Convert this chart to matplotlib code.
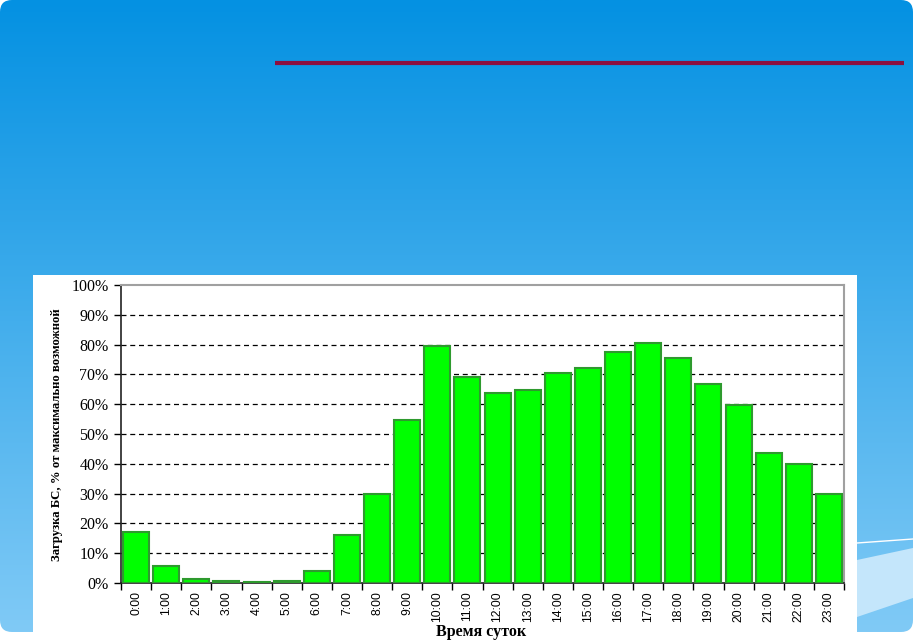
import numpy as np
import matplotlib.pyplot as plt
from matplotlib.patches import FancyBboxPatch, Rectangle, Polygon

hours = ["%d:00" % h for h in range(24)]
load = [17.0, 5.7, 1.2, 0.8, 0.4, 0.8, 4.0, 16.0, 29.8, 54.8,
        79.5, 69.0, 63.7, 64.9, 70.6, 72.3, 77.4, 80.4, 75.6, 66.7,
        59.8, 43.5, 39.9, 30.0]
y_ticks = list(range(0, 101, 10))
y_label = "Загрузка БС, % от максимально возможной"
x_label = "Время суток"

W, H = 915, 641
fig = plt.figure(figsize=(W / 100, H / 100), dpi=100)
fig.patch.set_facecolor("white")

# slide background in pixel coords
bg = fig.add_axes([0, 0, 1, 1])
bg.set_xlim(0, W)
bg.set_ylim(H, 0)
bg.axis("off")
grad = np.linspace(0, 1, 256)[:, None]
top = np.array([4, 145, 226]) / 255
bot = np.array([128, 202, 246]) / 255
img = top + (bot - top) * grad[..., None]
im = bg.imshow(img, extent=[0, 913, 632, 0], aspect="auto", zorder=0)
slide = FancyBboxPatch((0, 0), 913, 632, boxstyle="round,pad=0,rounding_size=12",
                       transform=bg.transData, facecolor="none", edgecolor="none")
bg.add_patch(slide)
im.set_clip_path(slide)

# light swooshes bottom right
bg.add_patch(Polygon([[857, 560], [913, 548], [913, 598], [857, 617]],
                     closed=True, facecolor="#c4e6fb", edgecolor="none", zorder=1))
bg.plot([857, 913], [543, 539], color="white", lw=1, zorder=1)

# red rule
bg.plot([275, 904], [63, 63], color="#8c0f3f", lw=3, solid_capstyle="butt", zorder=2)

# white chart box
bg.add_patch(Rectangle((33, 275), 824, 366, facecolor="white", edgecolor="none", zorder=3))

ax = fig.add_axes([121 / W, 1 - 583 / H, (844 - 121) / W, (583 - 285) / H])
x = np.arange(len(hours))
ax.bar(x, load, width=0.86, color="#00ff00", edgecolor="#2e9a2e", linewidth=1.5, zorder=3)
ax.set_xlim(-0.5, len(hours) - 0.5)
ax.set_ylim(0, 100)

ax.set_yticks(y_ticks)
ax.set_yticklabels(["%d%%" % v for v in y_ticks], family="Liberation Serif", fontsize=11.5)
ax.set_xticks(x)
ax.set_xticklabels(hours, rotation=90, family="Liberation Sans", fontsize=8.8)
ax.set_xticks(np.arange(-0.5, len(hours), 1), minor=True)
ax.tick_params(axis="x", which="major", length=0, pad=6)
ax.tick_params(axis="x", which="minor", length=5, width=1, direction="out")
ax.tick_params(axis="y", length=5, width=1, direction="out", pad=4)

for v in y_ticks[1:-1]:
    ax.axhline(v, color="black", lw=0.9, ls=(0, (4, 3)), zorder=1)

for s in ["left", "bottom"]:
    ax.spines[s].set_color("#222222")
    ax.spines[s].set_linewidth(1.2)
for s in ["top", "right"]:
    ax.spines[s].set_color("#a0a0a0")
    ax.spines[s].set_linewidth(1.5)

fig.text(57 / W, 1 - 435 / H, y_label, rotation=90, ha="center", va="center",
         family="Liberation Serif", fontweight="bold", fontsize=9.2)
fig.text(481 / W, 1 - 632 / H, x_label, ha="center", va="center",
         family="Liberation Serif", fontweight="bold", fontsize=11.5)

fig.savefig("out.png", dpi=100)
